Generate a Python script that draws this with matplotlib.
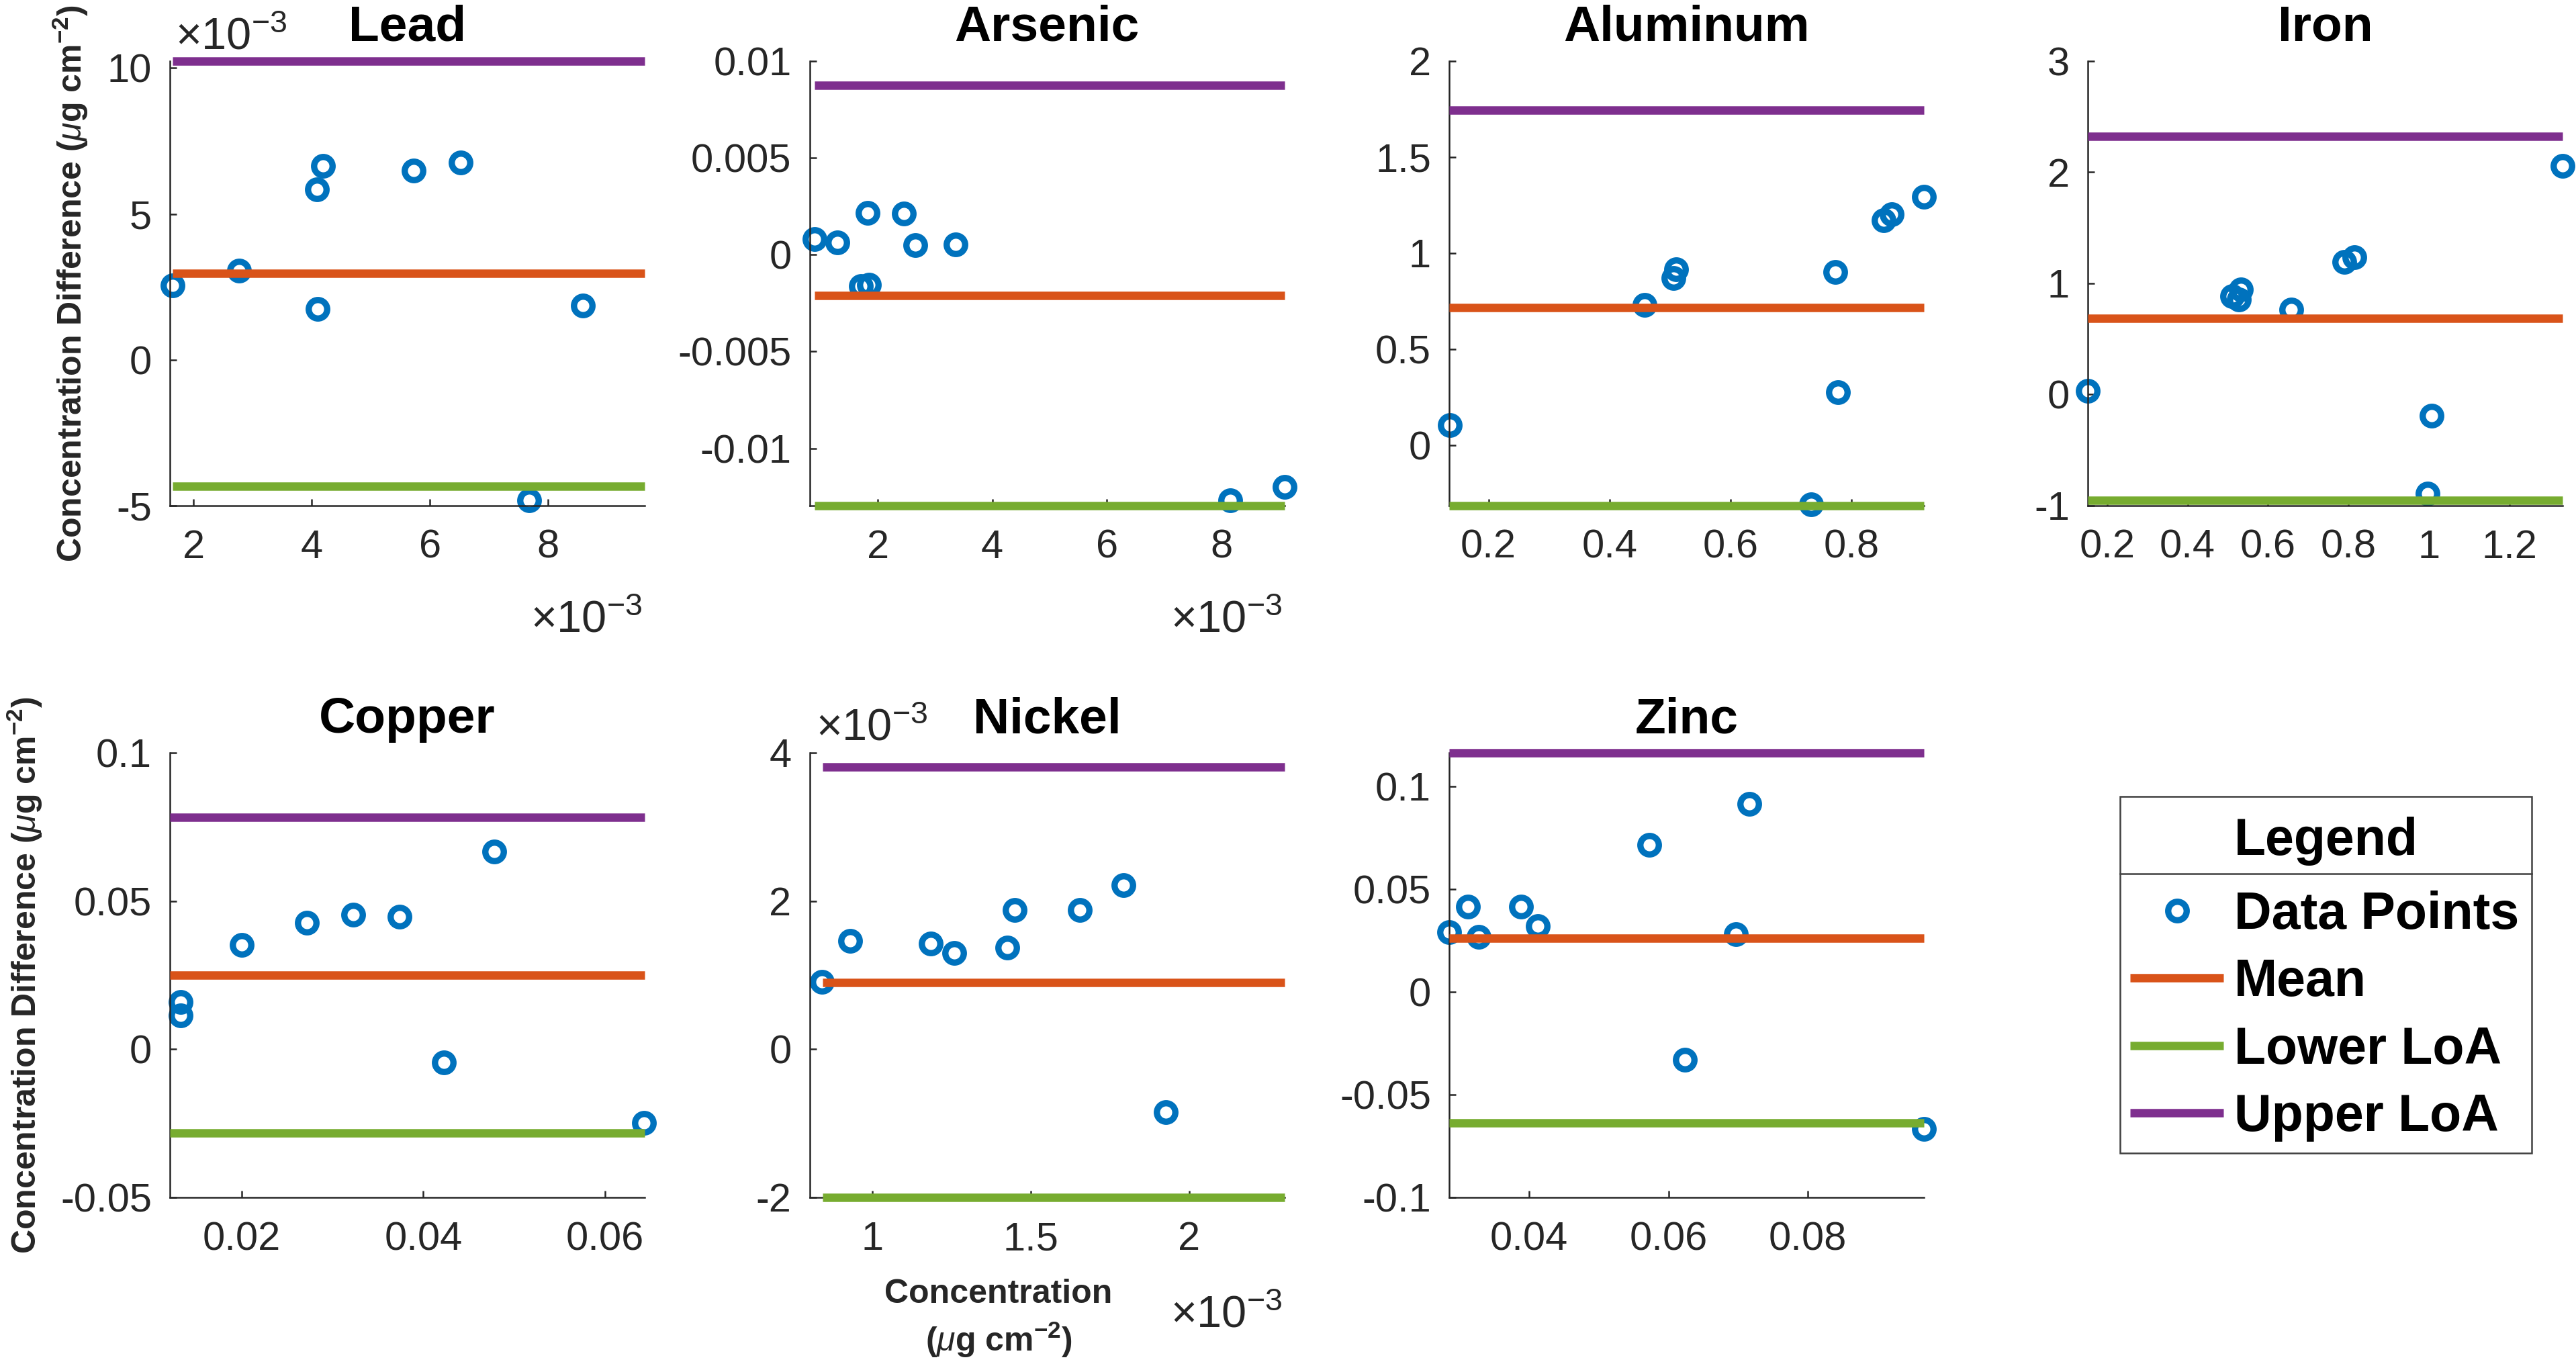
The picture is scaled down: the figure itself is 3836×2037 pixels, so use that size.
import matplotlib
matplotlib.use('Agg')
import matplotlib.pyplot as plt
from matplotlib.ticker import FuncFormatter
from matplotlib.lines import Line2D
from matplotlib.patches import Rectangle

plt.rcParams['font.family'] = ['Liberation Sans', 'DejaVu Sans']
plt.rcParams['mathtext.fontset'] = 'custom'
plt.rcParams['mathtext.rm'] = 'Liberation Sans'
plt.rcParams['mathtext.it'] = 'Liberation Sans:italic'
plt.rcParams['mathtext.bf'] = 'Liberation Sans:bold'

# ---------------- data ----------------
elements = ['Lead', 'Arsenic', 'Aluminum', 'Iron', 'Copper', 'Nickel', 'Zinc']

lead_x = [1.64e-3, 2.77e-3, 4.09e-3, 4.19e-3, 4.10e-3, 5.72e-3, 6.52e-3, 7.68e-3, 8.59e-3]
lead_y = [2.55e-3, 3.06e-3, 5.85e-3, 6.65e-3, 1.73e-3, 6.49e-3, 6.77e-3, -4.82e-3, 1.85e-3]

arsenic_x = [0.90e-3, 1.29e-3, 1.82e-3, 2.46e-3, 2.65e-3, 3.36e-3, 1.71e-3, 1.85e-3, 8.16e-3, 9.10e-3]
arsenic_y = [0.80e-3, 0.64e-3, 2.16e-3, 2.12e-3, 0.49e-3, 0.53e-3, -1.61e-3, -1.55e-3, -12.67e-3, -11.99e-3]

aluminum_x = [0.136, 0.458, 0.506, 0.510, 0.733, 0.773, 0.778, 0.853, 0.867, 0.920]
aluminum_y = [0.105, 0.731, 0.868, 0.915, -0.310, 0.900, 0.274, 1.169, 1.203, 1.291]

iron_x = [0.152, 0.511, 0.528, 0.533, 0.657, 0.790, 0.814, 1.007, 0.997, 1.332]
iron_y = [0.033, 0.882, 0.852, 0.941, 0.760, 1.188, 1.232, -0.192, -0.893, 2.055]

copper_x = [0.01329, 0.01329, 0.0200, 0.0272, 0.0323, 0.0374, 0.0423, 0.0478, 0.0643]
copper_y = [0.0159, 0.0114, 0.0351, 0.0426, 0.0455, 0.0446, -0.0044, 0.0668, -0.0249]

nickel_x = [0.841e-3, 0.930e-3, 1.183e-3, 1.259e-3, 1.426e-3, 1.448e-3, 1.655e-3, 1.793e-3, 1.926e-3]
nickel_y = [0.913e-3, 1.459e-3, 1.423e-3, 1.297e-3, 1.375e-3, 1.880e-3, 1.880e-3, 2.210e-3, -0.853e-3]

zinc_x = [0.0285, 0.0312, 0.0327, 0.0388, 0.0412, 0.0572, 0.0624, 0.0697, 0.0716, 0.0967]
zinc_y = [0.0290, 0.0414, 0.0269, 0.0414, 0.0319, 0.0715, -0.0329, 0.0282, 0.0914, -0.0665]

# Bland-Altman statistics (mean, lower LoA, upper LoA)
mean_vals = [2.96e-3, -2.10e-3, 0.716, 0.683, 0.0249, 0.90e-3, 0.0262]
lower_vals = [-4.35e-3, -12.94e-3, -0.314, -0.952, -0.0282, -2.0e-3, -0.0637]
upper_vals = [10.25e-3, 8.73e-3, 1.744, 2.32, 0.0782, 3.81e-3, 0.1164]

# horizontal extent of the reference lines
line_x_start = [1.64e-3, 0.90e-3, 0.135, 0.152, 0.01208, 0.843e-3, 0.0285]
line_x_end = [9.63e-3, 9.10e-3, 0.920, 1.332, 0.0644, 2.301e-3, 0.0967]

# axis limits
xlims = [(1.60e-3, 9.63e-3), (0.81e-3, 9.10e-3), (0.135, 0.920), (0.152, 1.332),
         (0.01208, 0.0644), (0.801e-3, 2.301e-3), (0.0285, 0.0967)]
ylims = [(-5.0e-3, 10.25e-3), (-12.94e-3, 10e-3), (-0.314, 2.0), (-1.0, 3.0),
         (-0.05, 0.1), (-2e-3, 4e-3), (-0.1, 0.1164)]

# ticks
xticks = [[2e-3, 4e-3, 6e-3, 8e-3], [2e-3, 4e-3, 6e-3, 8e-3], [0.2, 0.4, 0.6, 0.8],
          [0.2, 0.4, 0.6, 0.8, 1.0, 1.2], [0.02, 0.04, 0.06], [1e-3, 1.5e-3, 2e-3],
          [0.04, 0.06, 0.08]]
yticks = [[-5e-3, 0, 5e-3, 10e-3], [-0.01, -0.005, 0, 0.005, 0.01], [0, 0.5, 1, 1.5, 2],
          [-1, 0, 1, 2, 3], [-0.05, 0, 0.05, 0.1], [-2e-3, 0, 2e-3, 4e-3],
          [-0.1, -0.05, 0, 0.05, 0.1]]
# exponent multipliers shown on each axis (1 = none)
x_mult = [1e-3, 1e-3, 1, 1, 1, 1e-3, 1]
y_mult = [1e-3, 1, 1, 1, 1, 1e-3, 1]

series_x = [lead_x, arsenic_x, aluminum_x, iron_x, copper_x, nickel_x, zinc_x]
series_y = [lead_y, arsenic_y, aluminum_y, iron_y, copper_y, nickel_y, zinc_y]

legend_labels = ['Data Points', 'Mean', 'Lower LoA', 'Upper LoA']

# ---------------- style ----------------
BLUE = '#0072BD'
ORANGE = '#D95319'
GREEN = '#77AC30'
PURPLE = '#7E2F8E'
AXC = '#262626'

W, H = 3837, 2037
fig = plt.figure(figsize=(W / 300, H / 300), dpi=300)

col_left = [253, 1205.6, 2158, 3109]
row_top = [90.6, 1121]
ax_w, ax_h = 707, 662

tick_fs = 14.3
off_fs = 16
LW = 3.0
ylabel_txt = 'Concentration Difference ($\\mu$g cm$^{\\mathbf{-2}}$)'

handles = None
for i, name in enumerate(elements):
    r, c = divmod(i, 4)
    left = col_left[c]
    top = row_top[r]
    ax = fig.add_axes([left / W, 1 - (top + ax_h) / H, ax_w / W, ax_h / H])

    hp, = ax.plot(series_x[i], series_y[i], 'o', mfc='none', mec=BLUE, ms=6.6, mew=2.25,
                  clip_on=False, zorder=2)
    xs = [line_x_start[i], line_x_end[i]]
    hm, = ax.plot(xs, [mean_vals[i]] * 2, color=ORANGE, lw=LW, solid_capstyle='butt',
                  clip_on=False, zorder=3)
    hl, = ax.plot(xs, [lower_vals[i]] * 2, color=GREEN, lw=LW, solid_capstyle='butt',
                  clip_on=False, zorder=3)
    hu, = ax.plot(xs, [upper_vals[i]] * 2, color=PURPLE, lw=LW, solid_capstyle='butt',
                  clip_on=False, zorder=3)
    if handles is None:
        handles = [hp, hm, hl, hu]

    ax.set_xlim(*xlims[i])
    ax.set_ylim(*ylims[i])
    ax.set_xticks(xticks[i])
    ax.set_yticks(yticks[i])
    xm, ym = x_mult[i], y_mult[i]
    ax.xaxis.set_major_formatter(FuncFormatter(lambda v, p, m=xm: f'{round(v / m, 6):g}'))
    ax.yaxis.set_major_formatter(FuncFormatter(lambda v, p, m=ym: f'{round(v / m, 6):g}'))

    for s in ['top', 'right']:
        ax.spines[s].set_visible(False)
    for s in ['left', 'bottom']:
        ax.spines[s].set_color(AXC)
        ax.spines[s].set_linewidth(0.6)
    ax.tick_params(axis='both', direction='in', length=2.5, width=0.6, color=AXC,
                   labelcolor=AXC, labelsize=tick_fs)
    ax.tick_params(axis='x', pad=8.4)
    ax.tick_params(axis='y', pad=6.5)

    ax.set_title(name, fontsize=18, fontweight='bold', pad=7.2, color='black')

    if ym != 1:
        yb = 1.0258 if r == 0 else 1.028
        xo = 0.012 if r == 0 else 0.013
        ax.text(xo, yb, '×10$^{-3}$', transform=ax.transAxes, ha='left', va='baseline',
                fontsize=off_fs, color=AXC)
    if xm != 1:
        yb = -0.285 if r == 0 else -0.293
        ax.text(0.996, yb, '×10$^{-3}$', transform=ax.transAxes, ha='right', va='baseline',
                fontsize=off_fs, color=AXC)

    if name == 'Lead':
        ax.set_ylabel(ylabel_txt, fontsize=12, fontweight='bold', color=AXC)
        ax.yaxis.set_label_coords(-0.168, 0.5)
    if name == 'Copper':
        ax.set_ylabel(ylabel_txt, fontsize=12, fontweight='bold', color=AXC)
        ax.yaxis.set_label_coords(-0.265, 0.5)
    if name == 'Nickel':
        ax.set_xlabel('Concentration\n($\\mu$g cm$^{\\mathbf{-2}}$)', fontsize=12,
                      fontweight='bold', color=AXC, linespacing=1.35)
        ax.xaxis.set_label_coords(0.398, -0.183)

# ---------------- legend ----------------
lx0, lx1 = 3157, 3770
ly0, ly1 = 1186, 1717
ydiv = 1300.6
fig.add_artist(Rectangle((lx0 / W, 1 - ly1 / H), (lx1 - lx0) / W, (ly1 - ly0) / H,
                         transform=fig.transFigure, fill=False, ec='#404040', lw=0.6))
fig.add_artist(Line2D([lx0 / W, lx1 / W], [1 - ydiv / H] * 2, transform=fig.transFigure,
                      color='#404040', lw=0.6))
fig.text((lx0 + lx1) / 2 / W, 1 - 1273 / H, 'Legend', ha='center', va='baseline',
         fontsize=18.5, fontweight='bold', color='black')
fig.legend(handles, legend_labels, loc='upper left',
           bbox_to_anchor=(lx0 / W, 1 - (ydiv + 10) / H),
           frameon=False, prop={'size': 18.5, 'weight': 'bold'}, borderpad=0.2,
           handlelength=1.8, handletextpad=0.2, labelspacing=0.355, numpoints=1,
           borderaxespad=0)

fig.savefig('out.png', dpi=300)
